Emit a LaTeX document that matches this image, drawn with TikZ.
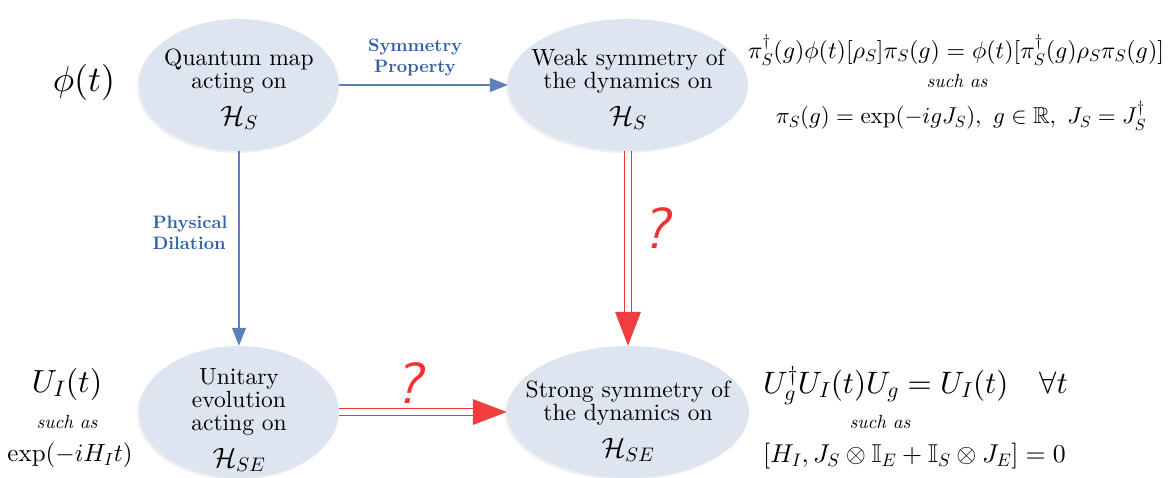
\documentclass[tikz,border=0pt]{standalone}
\usepackage{amsmath,amssymb}
\usepackage{fontspec}
\setmainfont{lmroman10-regular.otf}[BoldFont=lmroman10-bold.otf, ItalicFont=lmroman10-italic.otf, BoldItalicFont=lmroman10-bolditalic.otf]
\setsansfont{lmsans10-regular.otf}[ItalicFont=lmsans10-oblique.otf]
\DeclareFontShape{OML}{cmm}{m}{it}{<->cmmi10}{\skewchar\font'177}
\DeclareFontShape{OMS}{cmsy}{m}{n}{<->cmsy10}{\skewchar\font'60}
\DeclareFontShape{OT1}{cmr}{m}{n}{<->cmr10}{}
\DeclareFontShape{OMX}{cmex}{m}{n}{<->cmex10}{}
\usetikzlibrary{shapes.geometric,arrows.meta,shadows}
\definecolor{ellfill}{RGB}{220,229,240}
\definecolor{arrowblue}{RGB}{92,128,186}
\definecolor{labelblue}{RGB}{52,96,166}
\definecolor{qred}{RGB}{240,50,50}
\definecolor{headred}{RGB}{240,62,62}
\begin{document}
\begin{tikzpicture}[x=1pt,y=-1pt,
  ell/.style={ellipse, fill=ellfill, minimum height=132pt, inner sep=0pt,
    drop shadow={shadow xshift=-2pt, shadow yshift=-2pt, fill=black!6, opacity=1}},
  elltext/.style={align=center, inner sep=0pt, font=\fontsize{23.5}{23}\selectfont},
  bluearrow/.style={draw=arrowblue, line width=1.2pt, -{Triangle[length=18pt,width=14pt]}},
  redline/.style={draw=qred, line width=1.3pt},
  redhead/.style={fill=headred},
  bluelabel/.style={text=labelblue, font=\fontsize{18}{21}\selectfont\bfseries, inner sep=0pt},
  qmark/.style={text=qred, font=\fontsize{58}{58}\selectfont\sffamily\itshape, inner sep=0pt},
  suchas/.style={font=\fontsize{19}{19}\selectfont\itshape, inner sep=0pt},
  formula/.style={inner sep=0pt}]
\useasboundingbox (0,0) rectangle (1172,477);

% ellipses
\node[ell, minimum width=200pt] (Q) at (239,85) {};
\node[ell, minimum width=240pt] (W) at (628,85) {};
\node[ell, minimum width=200pt] (U) at (239,412) {};
\node[ell, minimum width=242pt] (S) at (628,412) {};
\node[elltext] (Qt) at ([yshift=-4pt]Q.center) {Quantum map\\acting on\\[12pt]{\fontsize{28}{28}\selectfont$\mathcal{H}_S$}};
\node[elltext] (Wt) at ([yshift=-4pt]W.center) {Weak symmetry of\\the dynamics on\\[12pt]{\fontsize{28}{28}\selectfont$\mathcal{H}_S$}};
\node[elltext] (Ut) at ([yshift=-8pt]U.center) {Unitary\\evolution\\acting on\\[12pt]{\fontsize{28}{28}\selectfont$\mathcal{H}_{SE}$}};
\node[elltext] (St) at ([yshift=-9pt]S.center) {Strong symmetry of\\the dynamics on\\[12pt]{\fontsize{28}{28}\selectfont$\mathcal{H}_{SE}$}};

% arrows
\draw[bluearrow] (Q.east) -- (W.west);
\draw[bluearrow] (Q.south) -- (U.north);
% red double arrow W -> S
\draw[redline, shorten >=30pt, transform canvas={xshift=-3.3pt}] (W.south) -- (S.north);
\draw[redline, shorten >=30pt, transform canvas={xshift=3.3pt}] (W.south) -- (S.north);
\fill[redhead] (S.north) -- ++(-13,-34) -- ++(26,0) -- cycle;
% red double arrow U -> S
\draw[redline, shorten >=30pt, transform canvas={yshift=-3.3pt}] (U.east) -- (S.west);
\draw[redline, shorten >=30pt, transform canvas={yshift=3.3pt}] (U.east) -- (S.west);
\fill[redhead] (S.west) -- ++(-34,-13) -- ++(0,26) -- cycle;

% labels
\node[bluelabel, align=center] (sp) at (415,58) {Symmetry\\Property};
\node[bluelabel, align=left] (pd) at (190,233) {Physical\\Dilation};
\node[qmark] (q1) at (655,228) {?};
\node[qmark] (q2) at (408,383) {?};

% left texts
\node[formula, font=\fontsize{36}{36}\selectfont] (phi) at (84,82) {$\phi(t)$};
\node[formula, font=\fontsize{32}{32}\selectfont] (ui) at (67,384) {$U_I(t)$};
\node[suchas] (ui2) at (67,422) {such as};
\node[formula, font=\fontsize{25}{25}\selectfont] (ui3) at (70,455) {$\exp(-iH_It)$};

% right top texts
\node[formula, font=\fontsize{24}{24}\selectfont] (wt1) at (956,50) {$\pi_S^\dagger(g)\phi(t)[\rho_S]\pi_S(g)=\phi(t)[\pi_S^\dagger(g)\rho_S\pi_S(g)]$};
\node[suchas] (wt2) at (957,81) {such as};
\node[formula, font=\fontsize{23}{23}\selectfont] (wt3) at (961,116) {$\pi_S(g)=\exp(-igJ_S),\ g\in\mathbb{R},\ J_S=J_S^\dagger$};

% right bottom texts
\node[formula, anchor=west, font=\fontsize{31}{31}\selectfont] (st1) at (763,386) {$U_g^\dagger U_I(t)U_g=U_I(t)\quad\forall t$};
\node[suchas] (st2) at (880,422) {such as};
\node[formula, anchor=west, font=\fontsize{25.8}{25.8}\selectfont] (st3) at (763,456) {$[H_I,J_S\otimes\mathbb{I}_E+\mathbb{I}_S\otimes J_E]=0$};
\end{tikzpicture}
\end{document}
